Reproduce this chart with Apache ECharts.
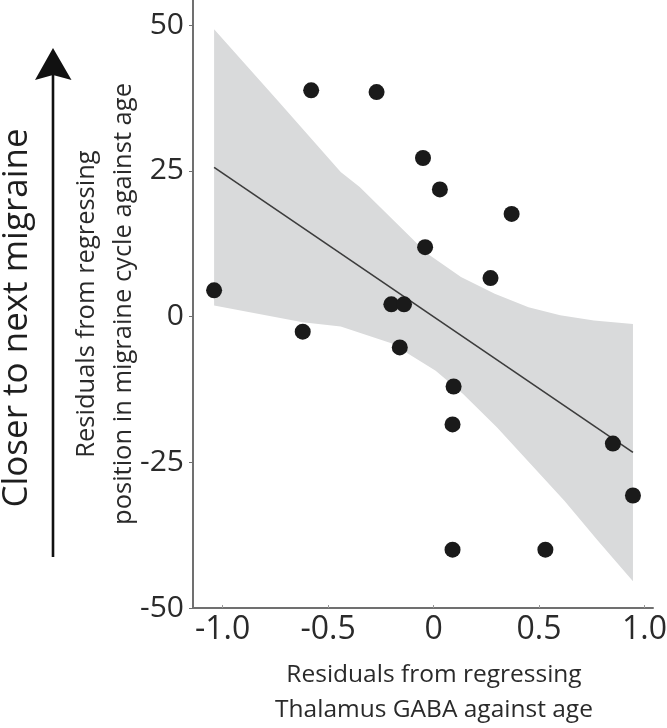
<!DOCTYPE html>
<html>
<head>
<meta charset="utf-8">
<script src="https://cdn.jsdelivr.net/npm/echarts@6/dist/echarts.min.js"></script>
<style>html,body{margin:0;padding:0;background:#fff}#c{width:667px;height:728px}</style>
</head>
<body>
<div id="c"></div>
<script>
// Data
const gabaResiduals = [-1.04, -0.58, -0.62, -0.27, -0.05, 0.03, 0.37, -0.04, 0.27, -0.20, -0.14, -0.16, 0.095, 0.09, 0.85, 0.945, 0.09, 0.53];
const cycleResiduals = [4.5, 38.8, -2.6, 38.5, 27.2, 21.8, 17.6, 11.9, 6.6, 2.1, 2.1, -5.3, -12.0, -18.5, -21.8, -30.7, -40.0, -40.0];
const fitX = [-1.04, 0.945];
const fitY = [25.6, -23.3];
const upperX = [-1.04, -0.74, -0.44, -0.35, -0.19, -0.03, 0.13, 0.29, 0.45, 0.60, 0.76, 0.945];
const upperY = [49.3, 37.1, 24.8, 22.2, 16.5, 10.8, 6.8, 3.9, 1.6, 0.2, -0.7, -1.3];
const lowerX = [-1.04, -0.62, -0.44, -0.20, 0.01, 0.14, 0.30, 0.46, 0.62, 0.78, 0.945];
const lowerY = [1.9, -1.0, -1.7, -4.6, -9.3, -13.3, -19.0, -25.3, -31.6, -38.5, -45.4];
const xTicks = [-1.0, -0.5, 0, 0.5, 1.0];
const xTickLabels = ['-1.0', '-0.5', '0', '0.5', '1.0'];
const yTicks = [-50, -25, 0, 25, 50];
const yTickLabels = ['-50', '-25', '0', '25', '50'];

const FONT = '"Open Sans", sans-serif';
const chart = echarts.init(document.getElementById('c'));
const scatterData = gabaResiduals.map((x, i) => [x, cycleResiduals[i]]);
const fitData = fitX.map((x, i) => [x, fitY[i]]);

chart.setOption({
  animation: false,
  grid: { left: 193, right: 14, top: 0, bottom: 120, containLabel: false, outerBoundsMode: 'none' },
  xAxis: {
    type: 'value', min: -1.14, max: 1.04,
    z: 5,
    name: 'Residuals from regressing\nThalamus GABA against age',
    nameLocation: 'middle', nameGap: 50,
    nameTextStyle: { fontFamily: FONT, fontSize: 24.5, color: '#2a2a2a', lineHeight: 35, padding: [0, 0, 0, 22] },
    axisLine: { onZero: false, lineStyle: { color: '#707070', width: 2 } },
    axisTick: { show: true, inside: true, length: 3, customValues: xTicks, lineStyle: { color: '#999' } },
    axisLabel: { customValues: xTicks, formatter: v => xTickLabels[xTicks.indexOf(v)] ?? '', fontFamily: FONT, fontSize: 32, color: '#2a2a2a', margin: 6 },
    splitLine: { show: false }
  },
  yAxis: {
    type: 'value', min: -50, max: 54.3,
    z: 5,
    name: 'Residuals from regressing\nposition in migraine cycle against age',
    nameLocation: 'middle', nameGap: 51, nameRotate: 90, nameMoveOverlap: false,
    nameTextStyle: { fontFamily: FONT, fontSize: 25.5, color: '#2a2a2a', lineHeight: 37 },
    axisLine: { onZero: false, lineStyle: { color: '#707070', width: 2 } },
    axisTick: { show: true, length: 4, customValues: yTicks, lineStyle: { color: '#707070' } },
    axisLabel: { customValues: yTicks, formatter: v => yTickLabels[yTicks.indexOf(v)] ?? '', fontFamily: FONT, fontSize: 30, color: '#2a2a2a', margin: 9 },
    splitLine: { show: false }
  },
  graphic: [
    { type: 'text', x: 17, y: 318, rotation: Math.PI / 2,
      style: { text: 'Closer to next migraine', font: '35px "Open Sans", sans-serif', fill: '#1e1e1e', align: 'center', verticalAlign: 'middle' } },
    { type: 'line', shape: { x1: 53, y1: 557, x2: 53, y2: 74 }, style: { stroke: '#111', lineWidth: 2.6 } },
    { type: 'polygon', shape: { points: [[53, 48], [71.5, 80], [53, 75], [35, 80]] }, style: { fill: '#111' } }
  ],
  series: [
    {
      type: 'custom', z: 1, silent: true,
      data: [0],
      renderItem: (params, api) => {
        const pts = [];
        for (let i = 0; i < upperX.length; i++) pts.push(api.coord([upperX[i], upperY[i]]));
        for (let i = lowerX.length - 1; i >= 0; i--) pts.push(api.coord([lowerX[i], lowerY[i]]));
        return { type: 'polygon', shape: { points: pts }, style: { fill: '#d9dadb' } };
      }
    },
    {
      type: 'line', z: 2, data: fitData, symbol: 'none', silent: true,
      lineStyle: { color: '#3c3c3c', width: 1.6 }
    },
    {
      type: 'scatter', z: 3, data: scatterData, symbolSize: 16,
      itemStyle: { color: '#1a1a1a', opacity: 1 }
    }
  ]
});
</script>
</body>
</html>
